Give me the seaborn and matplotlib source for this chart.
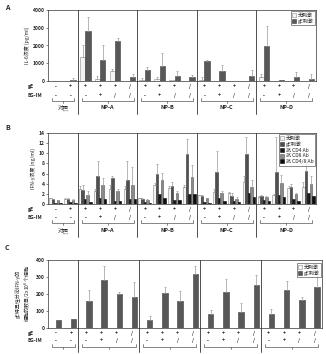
import numpy as np
import pandas as pd
import matplotlib
matplotlib.use("Agg")
import matplotlib.pyplot as plt
import seaborn as sns
from matplotlib.patches import Patch

sns.set_theme(style="white")
plt.rcParams['font.family'] = ['Noto Sans CJK SC', 'DejaVu Sans']

# ---------------- data ----------------
cats = [f"c{i}" for i in range(18)]
ge_row = ["-", "+", "+", "+", "+", "/", "+", "+", "+", "/", "+", "+", "+", "/", "+", "+", "+", "/"]
eg_row = ["-", "-", "-", "+", "/", "/", "-", "+", "/", "/", "-", "+", "/", "/", "-", "+", "/", "/"]
groups = ["对照", "NP-A", "NP-B", "NP-C", "NP-D"]
group_sizes = [2, 4, 4, 4, 4]

# Panel A: IL-6 (pg/ml)
a_unstim = [0, 0, 1350, 120, 580, 0, 60, 100, 30, 0, 80, 0, 0, 0, 250, 0, 0, 0]
a_unstim_err = [0, 0, 650, 180, 120, 0, 90, 100, 0, 0, 120, 0, 0, 0, 150, 0, 0, 0]
a_stim = [0, 60, 2800, 1200, 2250, 220, 600, 820, 300, 200, 1100, 550, 0, 300, 1950, 30, 250, 130]
a_stim_err = [0, 90, 800, 850, 200, 180, 200, 730, 250, 150, 100, 350, 0, 300, 1150, 0, 250, 270]

# Panel B: IFN-gamma (ng/ml)
b_unstim = [1.1, 1.0, 2.9, 2.6, 3.0, 2.9, 1.1, 3.8, 3.1, 3.3, 1.7, 2.4, 2.1, 4.3, 1.4, 1.7, 3.2, 3.3]
b_unstim_err = [0.1, 0.1, 0.6, 0.4, 0.7, 0.6, 0.1, 0.4, 0.4, 0.4, 0.1, 0.5, 0.3, 1.2, 0.2, 0.3, 0.3, 1.0]
b_stim = [0.9, 1.0, 2.7, 5.5, 5.1, 4.8, 1.0, 5.9, 3.5, 9.8, 1.5, 6.3, 1.6, 9.9, 1.6, 6.4, 3.3, 6.5]
b_stim_err = [0.1, 0.1, 1.1, 3.0, 0.5, 3.7, 0.1, 1.9, 0.9, 3.1, 0.2, 4.2, 0.5, 3.4, 0.2, 6.8, 0.7, 2.3]
b_cd4 = [0.2, 0.3, 1.0, 1.2, 0.6, 0.9, 0.3, 1.9, 0.7, 1.9, 0.4, 1.2, 0.6, 2.1, 0.7, 1.8, 1.0, 2.1]
b_cd8 = [0.7, 0.8, 1.8, 3.8, 2.6, 3.7, 0.8, 4.8, 2.1, 5.4, 1.1, 2.2, 1.0, 3.4, 1.4, 4.1, 1.9, 3.9]
b_cd8_err = [0.1, 0.1, 0.7, 1.3, 0.3, 3.5, 0.1, 1.3, 0.4, 2.3, 0.1, 0.4, 0.3, 1.3, 0.1, 1.6, 0.3, 1.6]
b_cd48 = [0.1, 0.1, 0.3, 1.0, 0.5, 1.0, 0.1, 1.2, 0.8, 1.9, 0.2, 0.6, 0.3, 1.3, 0.5, 1.4, 0.5, 1.5]

# Panel C: spot counts
c_unstim = [2] * 18
c_stim = [50, 55, 160, 285, 200, 185, 45, 205, 160, 315, 80, 210, 95, 255, 85, 225, 165, 240]
c_stim_err = [0, 0, 65, 80, 10, 85, 25, 35, 60, 50, 25, 80, 55, 55, 25, 50, 15, 70]

# ---------------- figure ----------------
W, H = 326, 354
fig = plt.figure(figsize=(W / 100, H / 100), dpi=100)

def ax_rect(left, top, right, bottom):
    return [left / W, 1 - bottom / H, (right - left) / W, (bottom - top) / H]

FS = 3.6

def draw_panel(ax, series, colors, edges, errs, width, ylim, yticks, ylabel,
               legend_labels, legend_bbox, row_y, group_label_y, divider_bottom):
    rows = []
    for name, vals in series:
        for c, v in zip(cats, vals):
            rows.append({"cat": c, "series": name, "val": v})
    df = pd.DataFrame(rows)
    names = [s[0] for s in series]
    sns.barplot(data=df, x="cat", y="val", hue="series", order=cats, hue_order=names,
                palette=colors, width=width, errorbar=None, legend=False,
                linewidth=0.4, ax=ax)
    for cont, ec in zip(ax.containers, edges):
        for p in cont:
            p.set_edgecolor(ec)
    # error bars from data
    for idx, err in errs.items():
        cont = ax.containers[idx]
        xs = [p.get_x() + p.get_width() / 2 for p in cont]
        ys = series[idx][1]
        xe = [x for x, e in zip(xs, err) if e > 0]
        ye = [y for y, e in zip(ys, err) if e > 0]
        ee = [e for e in err if e > 0]
        ax.errorbar(xe, ye, yerr=[np.zeros(len(ee)), ee], fmt="none", ecolor="#9a9a9a",
                    elinewidth=0.5, capsize=1.0, capthick=0.5)
    ax.set_ylim(*ylim)
    ax.set_yticks(yticks)
    ax.set_xlim(-0.5, 17.5)
    ax.set_xticks([])
    ax.set_xlabel("")
    ax.set_ylabel(ylabel, fontsize=FS, labelpad=2)
    ax.tick_params(axis="y", labelsize=FS, length=1.5, width=0.4, pad=1, left=True)
    for lab in ax.get_yticklabels():
        lab.set_fontweight("bold")
    for s in ax.spines.values():
        s.set_linewidth(0.5)
        s.set_color("#333333")
    tr = ax.get_xaxis_transform()
    # dividers
    pos = -0.5
    starts = []
    for gs in group_sizes:
        starts.append(pos)
        pos += gs
    for st in starts[1:]:
        ax.plot([st, st], [divider_bottom, 1], transform=tr, color="#333333", lw=0.6,
                clip_on=False)
    # rows
    ax.text(-0.075, row_y[0], "gE", transform=ax.transAxes, fontsize=FS, fontweight="bold",
            va="center", ha="left")
    ax.text(-0.075, row_y[1], "EG-IM", transform=ax.transAxes, fontsize=FS, fontweight="bold",
            va="center", ha="left")
    for i in range(18):
        ax.text(i, row_y[0], ge_row[i], transform=tr, fontsize=FS, ha="center", va="center",
                fontweight="bold")
        ax.text(i, row_y[1], eg_row[i], transform=tr, fontsize=FS, ha="center", va="center",
                fontweight="bold")
    # brackets and group labels
    by = row_y[2]
    for st, gs, g in zip(starts, group_sizes, groups):
        x0, x1 = st + 0.25, st + gs - 0.25
        xm = (x0 + x1) / 2
        ax.plot([x0, x0, x1, x1], [by + 0.04, by, by, by + 0.04], transform=tr,
                color="#555555", lw=0.5, clip_on=False)
        ax.plot([xm, xm], [by, by - 0.03], transform=tr, color="#555555", lw=0.5,
                clip_on=False)
        if group_label_y is not None:
            ax.text(xm, group_label_y, g, transform=tr, fontsize=FS + 0.4, ha="center",
                    va="center", fontweight="normal" if g == "对照" else "bold")
    # legend
    handles = [Patch(facecolor=c, edgecolor=e, linewidth=0.4) for c, e in zip(colors, edges)]
    leg = ax.legend(handles, legend_labels, loc="upper right", bbox_to_anchor=legend_bbox,
                    fontsize=FS, frameon=True, fancybox=False, handlelength=0.8,
                    handleheight=0.8, handletextpad=0.3, labelspacing=0.15,
                    borderpad=0.3, borderaxespad=0.2)
    leg.get_frame().set_edgecolor("#333333")
    leg.get_frame().set_linewidth(0.5)

# Panel A
axA = fig.add_axes(ax_rect(48, 10, 316, 81))
draw_panel(axA, [("无刺激", a_unstim), ("gE刺激", a_stim)],
           ["#f4f4f4", "#585858"], ["#8a8a8a", "#3a3a3a"],
           {0: a_unstim_err, 1: a_stim_err}, 0.72, (0, 4000), [0, 1000, 2000, 3000, 4000],
           "IL-6浓度 (pg/ml)", ["无刺激", "gE刺激"], (1.0, 1.0),
           (-0.075, -0.2, -0.28), -0.38, -0.46)

# Panel B
axB = fig.add_axes(ax_rect(48, 133, 316, 204))
draw_panel(axB, [("无刺激", b_unstim), ("gE刺激", b_stim), ("抗 CD4 Ab", b_cd4),
                 ("抗 CD8 Ab", b_cd8), ("抗 CD4/8 Ab", b_cd48)],
           ["#f2f2f2", "#4f4f4f", "#1a1a1a", "#8a8a8a", "#0d0d0d"],
           ["#8a8a8a", "#333333", "#111111", "#555555", "#000000"],
           {0: b_unstim_err, 1: b_stim_err, 3: b_cd8_err}, 0.85, (0, 14),
           list(range(0, 15, 2)), "IFN-γ浓度 (ng/ml)",
           ["无刺激", "gE刺激", "抗 CD4 Ab", "抗 CD8 Ab", "抗 CD4/8 Ab"], (1.0, 1.0),
           (-0.08, -0.19, -0.27), -0.38, -0.46)

# Panel C
axC = fig.add_axes(ax_rect(48, 260, 322, 328))
draw_panel(axC, [("无刺激", c_unstim), ("gE刺激", c_stim)],
           ["#f4f4f4", "#585858"], ["#8a8a8a", "#3a3a3a"],
           {1: c_stim_err}, 0.72, (0, 400), [0, 100, 200, 300, 400],
           "gE特异性分泌IFN-γ的\n细胞的数目/2x10$^6$个细胞", ["无刺激", "gE刺激"],
           (1.0, 0.97), (-0.075, -0.19, -0.28), None, -0.36)

for lab, y in [("A", 8), ("B", 128), ("C", 247)]:
    fig.text(5 / W, 1 - y / H, lab, fontsize=5, fontweight="bold", va="center", ha="left")

fig.savefig("out.png", dpi=100)
